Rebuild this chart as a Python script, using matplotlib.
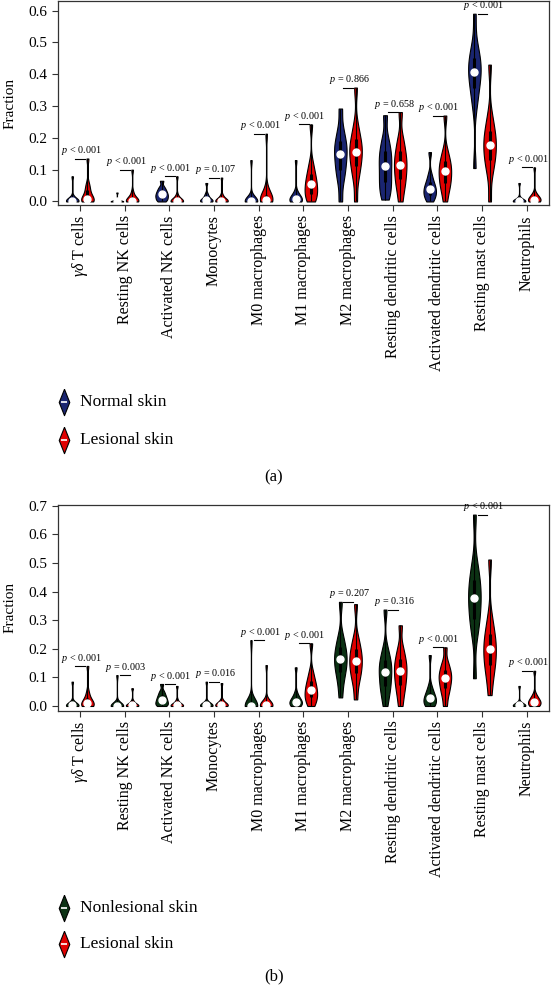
import numpy as np
import matplotlib
matplotlib.use("Agg")
import matplotlib.pyplot as plt
from matplotlib.path import Path

plt.rcParams['font.family'] = ['Liberation Serif', 'DejaVu Serif']
plt.rcParams['mathtext.fontset'] = 'custom'
plt.rcParams['mathtext.rm'] = 'Liberation Serif'
plt.rcParams['mathtext.it'] = 'Liberation Serif:italic'

cells = [r"$\gamma\delta$ T cells", "Resting NK cells", "Activated NK cells", "Monocytes",
         "M0 macrophages", "M1 macrophages", "M2 macrophages", "Resting dendritic cells",
         "Activated dendritic cells", "Resting mast cells", "Neutrophils"]

# deciles (min .. max), one list per violin
normal_a = [
    [0, 0, 0, 0, 0.001, 0.002, 0.004, 0.006, 0.009, 0.015, 0.079],
    [0, 0, 0, 0, 0, 0, 0, 0, 0.001, 0.004, 0.028],
    [0, 0.004, 0.009, 0.014, 0.018, 0.022, 0.027, 0.032, 0.038, 0.046, 0.065],
    [0, 0, 0, 0.001, 0.003, 0.005, 0.008, 0.012, 0.017, 0.025, 0.058],
    [0, 0, 0, 0, 0, 0.001, 0.002, 0.004, 0.007, 0.015, 0.13],
    [0, 0, 0, 0.002, 0.004, 0.007, 0.01, 0.014, 0.02, 0.03, 0.13],
    [0, 0.06, 0.09, 0.11, 0.13, 0.15, 0.165, 0.18, 0.2, 0.23, 0.292],
    [0.006, 0.03, 0.05, 0.07, 0.09, 0.113, 0.13, 0.15, 0.17, 0.2, 0.271],
    [0, 0.01, 0.018, 0.025, 0.032, 0.039, 0.046, 0.055, 0.066, 0.085, 0.155],
    [0.105, 0.3, 0.34, 0.37, 0.39, 0.408, 0.425, 0.44, 0.46, 0.49, 0.59],
    [0, 0, 0, 0, 0, 0.001, 0.002, 0.004, 0.007, 0.012, 0.058],
]
lesional_a = [
    [0, 0, 0.001, 0.004, 0.007, 0.009, 0.018, 0.03, 0.042, 0.055, 0.135],
    [0, 0, 0, 0, 0.001, 0.003, 0.006, 0.01, 0.016, 0.03, 0.10],
    [0, 0, 0, 0, 0, 0.001, 0.003, 0.006, 0.01, 0.02, 0.079],
    [0, 0, 0, 0, 0.001, 0.002, 0.004, 0.007, 0.011, 0.02, 0.075],
    [0, 0, 0, 0.001, 0.003, 0.006, 0.01, 0.016, 0.025, 0.04, 0.213],
    [0, 0.01, 0.02, 0.03, 0.042, 0.054, 0.065, 0.078, 0.095, 0.12, 0.242],
    [0, 0.07, 0.1, 0.12, 0.14, 0.156, 0.17, 0.185, 0.205, 0.24, 0.358],
    [0, 0.04, 0.06, 0.08, 0.1, 0.116, 0.13, 0.15, 0.17, 0.2, 0.281],
    [0, 0.035, 0.05, 0.065, 0.08, 0.095, 0.105, 0.12, 0.135, 0.16, 0.27],
    [0, 0.09, 0.12, 0.14, 0.16, 0.178, 0.195, 0.21, 0.235, 0.27, 0.43],
    [0, 0, 0.001, 0.002, 0.004, 0.006, 0.009, 0.013, 0.018, 0.025, 0.107],
]
pvals_a = ["< 0.001", "< 0.001", "< 0.001", "= 0.107", "< 0.001", "< 0.001",
           "= 0.866", "= 0.658", "< 0.001", "< 0.001", "< 0.001"]

nonles_b = [
    [0, 0, 0, 0, 0.001, 0.002, 0.004, 0.006, 0.009, 0.015, 0.085],
    [0, 0, 0, 0, 0, 0, 0.001, 0.002, 0.004, 0.008, 0.108],
    [0, 0.003, 0.007, 0.012, 0.017, 0.022, 0.028, 0.034, 0.042, 0.052, 0.077],
    [0, 0, 0, 0, 0.001, 0.002, 0.003, 0.005, 0.008, 0.013, 0.085],
    [0, 0, 0, 0, 0, 0.001, 0.002, 0.003, 0.005, 0.01, 0.23],
    [0, 0.002, 0.005, 0.008, 0.011, 0.015, 0.019, 0.024, 0.031, 0.045, 0.135],
    [0.03, 0.08, 0.11, 0.13, 0.148, 0.163, 0.178, 0.195, 0.215, 0.245, 0.364],
    [0, 0.04, 0.06, 0.08, 0.1, 0.12, 0.135, 0.15, 0.17, 0.2, 0.337],
    [0, 0.004, 0.009, 0.014, 0.02, 0.027, 0.034, 0.042, 0.052, 0.07, 0.178],
    [0.097, 0.25, 0.29, 0.32, 0.35, 0.378, 0.4, 0.425, 0.455, 0.5, 0.669],
    [0, 0, 0, 0, 0.001, 0.002, 0.003, 0.005, 0.008, 0.013, 0.07],
]
lesional_b = [
    [0, 0, 0.001, 0.003, 0.006, 0.01, 0.015, 0.022, 0.032, 0.05, 0.14],
    [0, 0, 0, 0, 0.001, 0.002, 0.004, 0.007, 0.011, 0.018, 0.062],
    [0, 0, 0, 0, 0.001, 0.002, 0.004, 0.007, 0.011, 0.02, 0.07],
    [0, 0, 0, 0.001, 0.002, 0.004, 0.006, 0.009, 0.013, 0.02, 0.08],
    [0, 0, 0, 0, 0.001, 0.002, 0.004, 0.007, 0.011, 0.02, 0.143],
    [0, 0.015, 0.025, 0.035, 0.045, 0.056, 0.067, 0.08, 0.095, 0.12, 0.219],
    [0.023, 0.08, 0.105, 0.125, 0.142, 0.158, 0.173, 0.19, 0.21, 0.24, 0.356],
    [0, 0.04, 0.065, 0.085, 0.105, 0.122, 0.138, 0.155, 0.175, 0.205, 0.282],
    [0, 0.035, 0.055, 0.07, 0.085, 0.097, 0.108, 0.12, 0.135, 0.155, 0.205],
    [0.038, 0.1, 0.13, 0.155, 0.178, 0.198, 0.218, 0.24, 0.265, 0.31, 0.512],
    [0, 0.002, 0.005, 0.008, 0.011, 0.015, 0.019, 0.024, 0.03, 0.04, 0.123],
]
pvals_b = ["< 0.001", "= 0.003", "< 0.001", "= 0.016", "< 0.001", "< 0.001",
           "= 0.207", "= 0.316", "< 0.001", "< 0.001", "< 0.001"]

NAVY = "#1a2570"
RED = "#e00000"
GREEN = "#0c3214"


def violins(ax, data, pos, color):
    vp = ax.violinplot(data, positions=pos, widths=0.28, showextrema=False, bw_method=0.35)
    for b in vp['bodies']:
        b.set_facecolor(color)
        b.set_edgecolor('black')
        b.set_linewidth(0.8)
        b.set_alpha(1)
    for x, d in zip(pos, data):
        q1, med, q3 = np.percentile(d, [25, 50, 75])
        ax.vlines(x, min(d), max(d), color='black', lw=0.8)
        ax.vlines(x, q1, q3, color='black', lw=2.2)
        ax.plot(x, med, 'o', color='white', ms=5, mec='white')


def panel(ax, g1, g2, c1, pvals, ylim):
    x = np.arange(len(cells))
    violins(ax, g1, x - 0.17, c1)
    violins(ax, g2, x + 0.17, RED)
    for i in range(len(cells)):
        top = max(max(g1[i]), max(g2[i]))
        ax.plot([i - 0.1, i + 0.12], [top, top], color='black', lw=0.8)
        ax.annotate("$p$ " + pvals[i], (i + 0.03, top), xytext=(0, 1),
                    textcoords='offset points', ha='center', va='bottom', fontsize=7.3)
    ax.set_xlim(-0.5, 10.5)
    ax.set_ylim(ylim)
    ticks = np.arange(0, ylim[1], 0.1)
    ax.set_xticks(x)
    ax.set_xticklabels(cells, rotation=90, fontsize=11.5)
    ax.set_yticks(ticks)
    ax.set_yticklabels(["%.1f" % v for v in ticks], fontsize=11)
    ax.tick_params(length=4, width=0.8, color='#333333', pad=3)
    ax.set_ylabel("Fraction", fontsize=11)
    ax.yaxis.set_label_coords(-0.084, 0.5)
    for s in ax.spines.values():
        s.set_color('#333333')
        s.set_linewidth(0.9)


fig = plt.figure(figsize=(5.54, 9.85), dpi=100)
ax1 = fig.add_axes([0.1038, 0.7914, 0.8872, 0.2076])
ax2 = fig.add_axes([0.1038, 0.2785, 0.8872, 0.2088])
panel(ax1, normal_a, lesional_a, NAVY, pvals_a, (-0.0126, 0.63))
panel(ax2, nonles_b, lesional_b, GREEN, pvals_b, (-0.0164, 0.7025))

# legends and panel letters, pixel coordinates
lax = fig.add_axes([0, 0, 1, 1])
lax.set_xlim(0, 554)
lax.set_ylim(985, 0)
lax.axis('off')
diamond = Path([(0, 1), (0.4, 0), (0, -1), (-0.4, 0), (0, 1)])
legend_items = [(402, NAVY, "Normal skin"), (440, RED, "Lesional skin"),
                (908, GREEN, "Nonlesional skin"), (944, RED, "Lesional skin")]
for y, c, lab in legend_items:
    lax.plot(64, y, marker=diamond, ms=19, mfc=c, mec='black', mew=0.8)
    lax.plot(64, y, marker='_', ms=4, mec='white', mew=1.2)
    lax.text(80, y, lab, fontsize=12.5, va='center', ha='left')
lax.text(274, 477, "(a)", fontsize=12, ha='center', va='center')
lax.text(274, 976, "(b)", fontsize=12, ha='center', va='center')

fig.savefig("out.png", dpi=100)
